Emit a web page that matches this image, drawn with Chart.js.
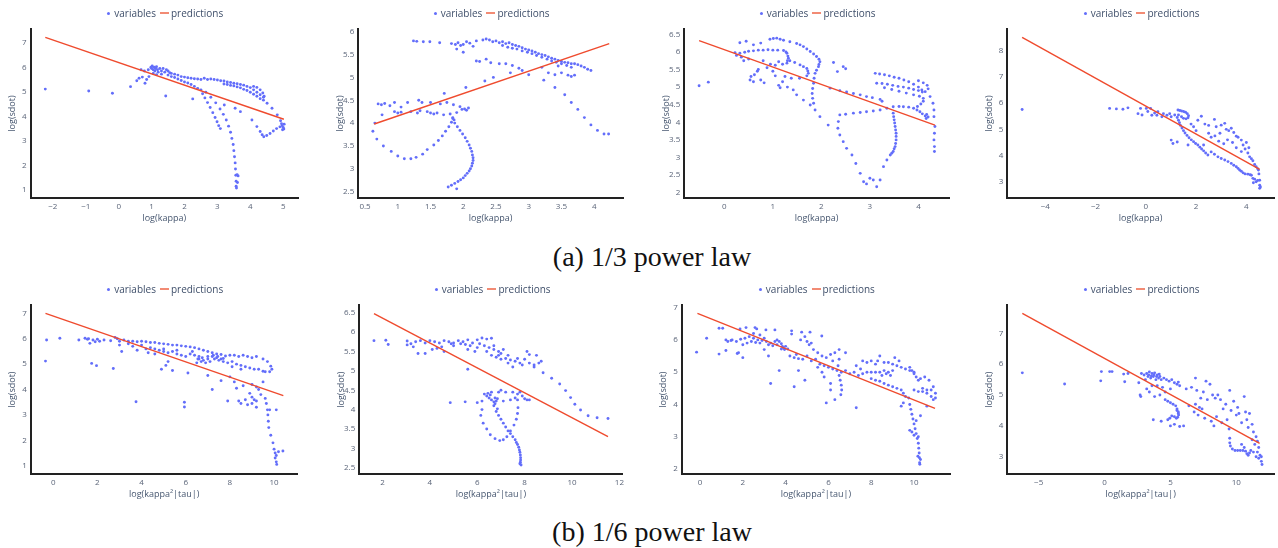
<!DOCTYPE html>
<html>
<head>
<meta charset="utf-8">
<script src="https://cdn.jsdelivr.net/npm/chart.js@4.4.1/dist/chart.umd.min.js"></script>
<style>
  html,body{margin:0;padding:0;background:#fff;}
  body{width:1278px;height:548px;position:relative;overflow:hidden;font-family:"Open Sans",sans-serif;}
  .panel{position:absolute;}
  .panel canvas{display:block;}
  .legend{position:absolute;transform:translateX(-50%);white-space:nowrap;font:10px "Open Sans",sans-serif;color:#3f4f6a;line-height:12px;display:flex;align-items:center;}
  .legend .dot{display:inline-block;width:3px;height:3px;border-radius:50%;background:#636efa;margin-right:4px;}
  .legend .ln{display:inline-block;width:9px;height:2px;background:#f28b74;margin:0 2px 0 4px;}
  .caption{position:absolute;left:0;width:1304px;text-align:center;font-family:"Liberation Serif",serif;font-size:28px;line-height:28px;color:#111;}
</style>
</head>
<body>
<div class="caption" style="top:243px">(a) 1/3 power law</div>
<div class="caption" style="top:518px">(b) 1/6 power law</div>
<script>
// ---------- tick labels & ranges ----------
const p1XTicks=[-2,-1,0,1,2,3,4,5], p1YTicks=[1,2,3,4,5,6,7];
const p2XTicks=[0.5,1,1.5,2,2.5,3,3.5,4], p2YTicks=[2.5,3,3.5,4,4.5,5,5.5,6];
const p3XTicks=[0,1,2,3,4], p3YTicks=[2,2.5,3,3.5,4,4.5,5,5.5,6,6.5];
const p4XTicks=[-4,-2,0,2,4], p4YTicks=[3,4,5,6,7,8];
const p5XTicks=[0,2,4,6,8,10], p5YTicks=[1,2,3,4,5,6,7];
const p6XTicks=[2,4,6,8,10,12], p6YTicks=[2.5,3,3.5,4,4.5,5,5.5,6,6.5];
const p7XTicks=[0,2,4,6,8,10], p7YTicks=[2,3,4,5,6,7];
const p8XTicks=[-5,0,5,10], p8YTicks=[3,4,5,6,7];

const p1XRange=[-2.68,5.45], p1YRange=[0.67,7.56];
const p2XRange=[0.397,4.44], p2YRange=[2.36,6.06];
const p3XRange=[-0.825,4.63], p3YRange=[1.85,6.65];
const p4XRange=[-5.51,5.10], p4YRange=[2.38,8.83];
const p5XRange=[-1.02,11.07], p5YRange=[0.66,7.33];
const p6XRange=[1.02,12.14], p6YRange=[2.33,6.70];
const p7XRange=[-0.855,11.68], p7YRange=[1.84,7.08];
const p8XRange=[-7.38,12.86], p8YRange=[2.43,7.92];

const xTitleTop="log(kappa)", xTitleBottom="log(kappa\u00B2|tau|)", yTitle="log(sdot)";
const seriesNames=["variables","predictions"];

// ---------- fitted lines (predictions) ----------
const p1Fit=[[-2.23,7.22],[5.02,3.88]];
const p2Fit=[[0.64,3.98],[4.23,5.74]];
const p3Fit=[[-0.52,6.32],[4.34,3.92]];
const p4Fit=[[-4.92,8.51],[4.53,3.47]];
const p5Fit=[[-0.35,7.0],[10.42,3.76]];
const p6Fit=[[1.64,6.48],[11.52,3.3]];
const p7Fit=[[-0.12,6.82],[10.98,3.88]];
const p8Fit=[[-6.24,7.65],[11.77,3.43]];

// ---------- observed variables ----------
const p1Pts=[[-2.23,5.11],[-0.91,5.03],[-0.19,4.94],[0.36,5.21],[1.43,4.83],[2.25,4.71],
[0.55,5.45],[0.62,5.55],[0.68,5.9],[0.72,5.6],[0.78,5.85],[0.8,5.35],[0.85,5.5],[0.9,5.9],[0.92,5.62],
[0.98,6.0],[1.0,5.95],[1.02,6.05],[1.05,5.9],[1.08,6.0],[1.1,5.85],[1.12,5.95],[1.15,6.02],[1.18,5.9],[1.2,5.8],[1.25,5.95],[1.3,5.85],[1.35,5.95],[1.4,5.8],[1.45,5.9],[1.5,5.85],[1.55,5.78],[1.6,5.75],[1.7,5.72],[1.8,5.68],[1.9,5.62],[1.05,5.75],[1.15,5.7],
[2.0,5.6],[2.1,5.57],[2.2,5.55],[2.3,5.53],[2.4,5.52],[2.5,5.5],[2.6,5.55],[2.7,5.5],[2.8,5.52],[2.9,5.5],[3.0,5.48],[3.1,5.45],[3.2,5.44],[3.3,5.4],[3.4,5.38],[3.5,5.35],[3.6,5.33],[3.7,5.3],[3.8,5.27],[3.9,5.22],[4.0,5.17],[4.1,5.08],[4.2,4.98],[4.3,4.88],[4.4,4.78],
[3.2,5.32],[3.3,5.3],[3.4,5.26],[3.5,5.24],[3.6,5.2],[3.7,5.16],[3.8,5.1],[3.9,5.05],[4.0,4.98],[4.1,4.9],[4.2,4.82],[4.3,4.72],[4.4,4.66],
[4.1,5.22],[4.2,5.18],[4.3,5.08],[4.38,4.95],[4.42,4.82],
[1.5,5.68],[1.7,5.58],[1.9,5.46],[2.1,5.36],[2.3,5.22],[2.5,5.08],[1.3,5.72],[1.6,5.62],[1.8,5.52],[2.0,5.4],[2.2,5.3],[2.4,5.14],
[2.55,4.92],[2.62,4.75],[2.7,4.56],[2.78,4.36],[2.86,4.15],[2.93,3.95],[2.99,3.78],[3.04,3.62],[3.09,3.5],
[2.65,4.98],[2.8,4.78],[2.95,4.55],[3.08,4.3],[3.18,4.08],[3.27,3.85],[3.34,3.6],[3.4,3.35],[3.44,3.1],[3.48,2.85],[3.5,2.6],[3.52,2.35],[3.54,2.1],[3.55,1.85],[3.56,1.6],[3.57,1.35],[3.57,1.15],[3.58,1.08],[3.61,1.3],[3.63,1.57],[3.6,1.62],
[3.21,4.46],[3.54,4.33],[3.7,4.19],[4.05,3.85],[4.2,3.58],[4.3,3.38],[4.36,3.25],[4.41,3.17],[4.5,3.22],[4.6,3.3],[4.7,3.4],[4.8,3.5],[4.9,3.57],[4.97,3.62],[5.0,3.55],[5.02,3.48],[4.98,3.45],[5.03,3.68],[4.95,3.7],[4.51,4.53],[4.66,4.33],[4.82,4.06],[4.92,3.82]];

const p2Pts=[[1.24,5.8],[1.29,5.79],[1.39,5.78],[1.49,5.78],[1.64,5.76],[1.82,5.74],[1.88,5.72],[1.92,5.76],[1.96,5.7],[2.0,5.72],[2.05,5.78],[2.1,5.75],[2.15,5.68],[2.2,5.8],[2.3,5.82],[2.35,5.84],[2.4,5.82],[2.45,5.78],[2.5,5.8],[2.55,5.76],[2.6,5.78],[2.65,5.74],[2.7,5.76],[2.75,5.72],[2.8,5.7],[2.85,5.68],[2.9,5.65],[2.95,5.62],[3.0,5.6],[3.05,5.58],[3.1,5.55],[3.15,5.52],[3.2,5.5],[3.25,5.48],[3.3,5.45],[3.35,5.42],[3.4,5.4],[3.45,5.37],[3.5,5.35],[3.55,5.33],[3.6,5.32],[3.65,5.3],[3.7,5.3],[3.75,5.28],[3.8,5.25],[3.85,5.22],[3.9,5.18],[3.95,5.15],
[2.6,5.7],[2.68,5.66],[2.75,5.64],[2.82,5.62],[2.9,5.58],[2.98,5.55],[3.05,5.52],[3.12,5.48],[3.2,5.44],[3.28,5.4],[3.35,5.36],[3.42,5.33],[3.5,5.3],[3.58,5.26],[3.65,5.22],
[1.9,5.62],[2.0,5.55],[2.2,5.36],[2.25,5.35],[2.35,5.4],[2.42,5.32],[2.55,5.3],[2.65,5.3],[2.75,5.26],[2.85,5.2],[2.9,5.15],[3.0,5.06],[3.2,5.22],[3.45,5.25],[3.5,5.1],[3.6,5.05],[3.65,5.02],[3.7,5.05],[2.72,5.1],[2.46,5.0],[3.3,5.1],[3.4,5.06],
[2.33,4.92],[2.04,4.78],[1.71,4.65],[3.23,4.94],[3.4,4.78],[3.55,4.62],[3.65,4.45],[3.75,4.3],[3.85,4.12],[3.95,3.96],[4.05,3.84],[4.15,3.76],[4.22,3.76],
[0.7,4.42],[0.75,4.4],[0.8,4.43],[0.88,4.38],[0.95,4.45],[1.05,4.35],[1.15,4.45],[1.32,4.5],[1.37,4.45],[1.5,4.45],[1.65,4.42],[1.75,4.45],[1.85,4.4],[1.95,4.36],[2.02,4.31],[2.08,4.33],[2.05,4.28],[1.98,4.3],
[0.95,4.25],[1.0,4.22],[1.05,4.24],[1.2,4.25],[1.3,4.22],[1.45,4.25],[1.55,4.2],[1.6,4.22],[1.7,4.18],[1.8,4.2],[1.9,4.23],[1.34,4.27],[1.5,4.22],
[0.65,4.0],[0.62,3.82],[0.68,3.65],[0.78,3.5],[0.9,3.38],[1.0,3.28],[1.1,3.22],[1.2,3.22],[1.28,3.25],[1.38,3.32],[1.45,3.42],[1.55,3.52],[1.62,3.62],[1.68,3.72],[1.73,3.82],[1.78,3.92],[1.82,4.02],[1.84,4.1],[0.76,4.18],
[1.87,4.0],[1.91,3.92],[1.95,3.84],[1.99,3.76],[2.03,3.68],[2.06,3.6],[2.09,3.52],[2.11,3.45],[2.13,3.38],[2.14,3.3],[2.15,3.24],[2.15,3.18],[2.14,3.12],[2.13,3.06],[2.11,3.0],[2.09,2.95],[2.06,2.9],[2.03,2.85],[2.0,2.8],[1.96,2.76],[1.92,2.72],[1.87,2.68],[1.82,2.64],[1.77,2.6],[1.9,2.56],[1.84,4.12],[1.86,4.07]];

const p3Pts=[[-0.52,5.04],[-0.33,5.14],
[0.32,6.26],[0.45,6.3],[0.6,6.2],[0.75,6.25],[0.94,6.36],[1.01,6.38],[1.08,6.39],[1.15,6.36],[1.22,6.33],[1.35,6.29],[1.49,6.24],[1.56,6.2],[1.63,6.15],[1.7,6.08],[1.77,6.01],[1.84,5.94],[1.9,5.87],[1.95,5.79],[1.97,5.72],[1.95,5.64],[1.94,5.58],[1.9,5.48],[1.87,5.39],[1.85,5.25],[1.84,5.11],[1.82,4.96],[1.81,4.82],[1.82,4.68],[1.84,4.54],[1.87,4.35],
[0.22,5.98],[0.32,5.96],[0.42,5.99],[0.5,6.02],[0.6,6.03],[0.7,6.05],[0.8,6.05],[0.9,6.06],[1.0,6.05],[1.1,6.05],[1.22,6.04],[1.27,6.0],[1.29,5.96],[1.31,5.88],[1.32,5.82],[1.3,5.75],[1.29,5.68],[1.2,5.65],[1.12,5.72],[1.05,5.62],
[1.35,5.75],[1.45,5.7],[1.56,5.63],[1.63,5.58],[1.7,5.53],[1.72,5.46],[1.73,5.39],[1.7,5.32],
[0.25,5.9],[0.35,5.85],[0.53,5.2],[0.55,5.3],[0.62,5.35],[0.68,5.45],[0.75,5.2],[0.82,5.12],[0.88,5.55],[0.95,5.65],[1.05,5.32],[1.12,5.05],[1.2,5.15],[1.3,5.0],[1.38,5.25],[1.42,4.92],[1.49,4.78],[1.63,4.63],[1.77,4.49],[1.97,4.16],[2.14,3.92],[0.4,5.75],[0.5,5.8],[0.7,5.5],[1.0,5.45],[1.15,4.98],[1.25,5.3],[1.55,5.25],[0.8,5.75],[0.6,5.15],
[2.25,5.7],[2.33,5.44],[2.45,5.58],[2.5,5.52],
[2.18,4.97],[2.38,4.9],[2.66,4.82],[2.93,4.73],[3.21,4.65],[3.25,4.6],[3.05,4.7],[2.8,4.78],[2.52,4.86],
[3.11,5.39],[3.2,5.37],[3.3,5.35],[3.4,5.32],[3.5,5.28],[3.6,5.25],[3.7,5.2],[3.8,5.15],[3.9,5.08],[4.0,5.0],[4.07,4.92],[4.14,4.87],
[3.14,5.11],[3.25,5.1],[3.36,5.08],[3.47,5.05],[3.58,5.02],[3.69,5.0],[3.8,4.97],[3.9,4.93],[4.0,4.9],[4.08,4.86],[4.2,4.95],[4.18,5.05],[4.1,5.12],[4.0,5.18],
[3.3,4.98],[3.45,4.93],[3.6,4.88],[3.75,4.83],[3.9,4.78],[4.02,4.74],[4.1,4.68],[4.1,4.6],[4.05,4.52],[3.98,4.45],
[3.21,4.35],[3.35,4.4],[3.48,4.44],[3.6,4.45],[3.69,4.44],[3.8,4.43],[3.9,4.4],[3.97,4.35],[4.03,4.3],[4.08,4.24],[4.14,4.18],[4.16,4.11],[4.2,4.15],[4.17,4.22],
[4.24,4.73],[4.3,4.54],[4.32,4.35],[4.32,4.16],[4.34,3.88],[4.33,3.69],[4.32,3.5],[4.33,3.31],[4.33,3.17],
[2.38,4.21],[2.5,4.23],[2.66,4.26],[2.8,4.28],[2.93,4.3],[3.07,4.32],[2.35,4.02],[2.34,3.83],[2.38,3.64],[2.45,3.45],[2.52,3.26],[2.63,3.07],[2.71,2.83],[2.8,2.55],[2.87,2.31],[2.93,2.25],[3.0,2.41],[3.07,2.36],[3.14,2.17],[3.21,2.36],[3.28,2.74],[3.35,2.93],[3.42,3.07],[3.48,3.17],[3.52,3.31],[3.54,3.5],[3.54,3.69],[3.52,3.88],[3.5,4.07],[3.48,4.26],
[3.45,3.12],[3.5,3.25],[3.53,3.4],[3.54,3.6],[3.53,3.78],[3.51,3.98],[3.49,4.16]];

const p4Pts=[[-4.92,5.76],[-1.44,5.8],[-1.17,5.78],[-0.91,5.77],[-0.71,5.82],
[-0.31,5.6],[-0.15,5.55],[-0.21,5.8],[0.02,5.8],[0.19,5.8],[0.08,5.68],[0.24,5.54],[0.44,5.54],[0.64,5.48],[0.84,5.54],[1.01,5.48],[0.48,5.67],[0.35,5.62],[0.7,5.6],[0.95,5.6],[1.15,5.55],
[1.28,5.74],[1.35,5.72],[1.42,5.7],[1.5,5.68],[1.58,5.65],[1.65,5.6],[1.7,5.52],[1.68,5.44],[1.6,5.4],[1.5,5.42],[1.42,5.48],[1.3,5.55],[1.25,5.45],[1.3,5.35],[1.34,5.25],[1.38,5.15],[1.44,5.05],[1.5,4.95],[1.56,4.86],[1.64,4.77],[1.72,4.68],[1.81,4.6],[1.9,4.53],[1.98,4.46],[2.07,4.4],[2.15,4.32],[2.22,4.25],[2.3,4.18],[2.38,4.1],[2.47,4.02],
[1.01,4.59],[1.08,4.46],[1.25,4.52],[1.68,4.4],[2.07,5.35],[2.21,5.5],[2.35,5.2],[2.5,5.15],[2.73,5.38],[2.8,5.1],[3.0,5.16],[3.14,5.23],[3.2,5.0],[3.3,4.95],[3.4,5.04],[3.5,4.88],[3.6,4.74],[3.67,4.7],[3.8,4.59],[3.87,4.4],[3.95,4.25],[4.06,4.1],[4.13,3.95],[4.2,3.88],[4.26,3.8],[4.33,3.66],[4.39,3.57],[4.45,3.5],[2.6,4.7],[2.75,4.75],[2.9,4.55],[3.1,4.45],[3.25,4.6],[3.45,4.5],[2.5,4.85],[1.9,5.1],[2.0,4.95],[1.8,5.2],[2.3,4.4],[3.6,4.3],[3.8,4.15],[4.0,4.5],[4.1,4.3],[2.95,4.85],
[2.6,4.14],[2.73,4.05],[2.87,3.95],[3.0,3.89],[3.14,3.83],[3.27,3.77],[3.4,3.7],[3.5,3.63],[3.6,3.57],[3.67,3.51],[3.73,3.45],[3.8,3.4],[3.87,3.34],[3.95,3.3],[4.06,3.29],[4.15,3.27],[4.2,3.25],[4.26,3.13],[4.28,2.96],[4.33,3.1],[4.39,3.0],[4.45,3.05],[4.53,3.06],[4.53,2.87],[4.53,2.75],[4.56,2.8],[4.5,3.3],[4.48,3.45]];

const p5Pts=[[-0.35,5.12],[-0.3,5.95],[0.3,6.02],[1.16,5.95],[1.44,6.02],[1.55,5.98],[1.66,5.82],[1.74,5.03],[1.96,4.94],[2.72,4.83],[3.75,3.52],[5.94,3.5],[5.94,3.31],
[1.6,6.0],[1.8,5.95],[1.9,5.88],[2.0,5.98],[2.1,5.9],[2.3,5.95],[2.6,5.92],[2.8,6.05],[2.9,6.0],[3.0,5.9],[3.2,5.95],[3.4,5.9],[3.6,5.9],[3.8,5.88],[4.0,5.9],[4.2,5.88],[4.4,5.85],[4.6,5.85],[4.8,5.82],[5.0,5.8],[5.2,5.78],[5.4,5.75],[5.6,5.75],[5.8,5.72],[6.0,5.7],[6.2,5.68],[6.4,5.65],[6.6,5.6],[6.8,5.55],[7.0,5.5],[7.2,5.45],[7.4,5.4],[7.6,5.38],
[3.0,5.75],[3.4,5.8],[3.6,5.7],[4.0,5.75],[4.2,5.6],[4.4,5.65],[4.6,5.6],[4.8,5.55],[5.0,5.5],[5.2,5.45],[5.4,5.5],[5.6,5.4],[5.8,5.35],[6.0,5.3],[6.2,5.4],[6.4,5.35],[6.6,5.2],[6.8,5.15],[7.0,5.3],[7.2,5.3],[7.4,5.25],[7.6,5.2],[7.8,5.32],[8.0,5.35],[8.2,5.35],[8.4,5.3],[8.6,5.35],[8.8,5.3],[9.0,5.25],[9.2,5.3],[9.5,5.2],[9.7,5.1],[9.85,4.92],[9.9,4.8],[9.8,4.7],[9.6,4.7],
[6.6,5.3],[6.7,5.1],[6.9,5.05],[7.1,5.1],[7.3,5.2],[7.5,5.15],[7.7,5.1],[7.9,5.05],[8.1,5.1],[8.3,5.0],[8.5,4.95],[8.7,4.9],[8.9,4.85],[9.1,4.8],[9.3,4.8],[9.5,4.72],[6.55,5.2],[6.75,5.25],[7.0,5.2],[7.25,5.35],[7.45,5.3],[7.7,5.22],
[3.1,5.5],[3.8,5.55],[4.3,5.45],[4.9,4.8],[5.1,4.95],[5.4,4.75],[5.2,5.1],[6.1,4.65],[6.5,5.05],[7.0,4.55],[7.2,4.0],[7.6,4.35],[7.9,3.55],[8.0,4.5],[8.2,4.3],[8.3,4.05],[8.4,3.55],[8.5,3.45],[8.6,4.15],[8.7,3.6],[8.8,3.4],[8.9,3.85],[9.0,3.7],[9.1,3.6],[9.2,3.55],[9.0,3.45],[9.3,4.0],[9.4,3.8],[9.5,4.3],[9.2,3.3],[9.8,3.2],[10.1,3.2],[8.5,4.8],[9.0,4.2],[9.2,4.1],[8.1,4.9],[5.6,5.55],[6.3,5.5],[4.6,5.4],[5.0,5.6],
[9.6,3.65],[9.65,3.45],[9.7,3.2],[9.72,3.0],[9.74,2.75],[9.76,2.5],[9.85,2.2],[9.95,1.9],[10.0,1.65],[10.05,1.5],[10.1,1.4],[10.05,1.3],[10.1,1.15],[10.12,1.05],[10.2,1.55],[10.4,1.58]];

const p6Pts=[[1.64,5.78],[2.14,5.79],[2.24,5.68],[3.04,5.77],[3.04,5.67],
[3.2,5.7],[3.4,5.75],[3.6,5.78],[3.8,5.72],[4.0,5.78],[4.2,5.75],[4.4,5.72],[4.6,5.78],[4.8,5.75],[5.0,5.72],[5.2,5.78],[5.4,5.75],[5.6,5.8],[5.8,5.72],[6.0,5.8],[6.2,5.85],[6.4,5.82],[6.6,5.84],[5.0,5.65],[5.3,5.7],[5.7,5.65],[6.0,5.6],[6.3,5.65],[6.5,5.6],[6.7,5.55],[6.9,5.5],[7.1,5.55],[6.4,5.5],[6.6,5.4],[6.8,5.35],[7.0,5.3],[7.2,5.32],[7.4,5.28],[7.6,5.25],[7.8,5.2],[8.0,5.3],[8.2,5.2],[7.5,5.1],[7.9,5.15],[8.1,5.5],[8.5,5.4],[8.6,5.2],[8.7,5.25],[8.4,5.15],[7.3,5.4],[6.9,5.4],[3.5,5.45],[3.8,5.45],[4.1,5.55],[4.3,5.58],[4.6,5.5],[5.6,5.55],[5.9,5.5],[4.9,5.7],[5.5,5.68],[6.1,5.7],[6.7,5.65],[7.0,5.45],[7.3,5.2],[7.7,5.32],[8.2,5.42],[3.3,5.62],[4.5,5.62],
[5.6,5.04],[8.4,5.1],[8.78,4.95],[9.14,4.81],[9.48,4.66],[9.73,4.49],[9.94,4.31],[10.12,4.14],[10.36,3.99],[10.68,3.84],[11.06,3.79],[11.52,3.77],
[4.86,4.18],[5.49,4.2],
[6.3,4.4],[6.4,4.35],[6.5,4.3],[6.6,4.25],[6.7,4.2],[6.8,4.22],[6.9,4.45],[7.0,4.5],[7.2,4.45],[7.5,4.45],[7.7,4.4],[7.9,4.35],[8.0,4.28],[8.1,4.25],[8.2,4.25],[7.4,4.25],[7.7,4.25],[6.2,4.22],[6.0,4.18],[6.6,4.45],[7.1,4.22],[7.8,4.45],[7.6,4.3],[6.45,4.42],[6.55,4.38],[6.75,4.3],[6.85,4.28],
[6.2,4.0],[6.15,3.85],[6.25,3.65],[6.4,3.5],[6.55,3.35],[6.75,3.25],[6.95,3.2],[7.1,3.22],[7.25,3.3],[7.4,3.45],[7.55,3.6],[7.65,3.75],[7.7,3.9],[7.72,4.05],
[6.7,4.1],[6.8,3.95],[6.9,3.85],[7.0,3.75],[7.1,3.65],[7.2,3.55],[7.3,3.45],[7.4,3.38],[7.5,3.3],[7.6,3.22],[7.65,3.15],[7.7,3.1],[7.75,3.03],[7.78,2.96],[7.8,2.9],[7.82,2.83],[7.83,2.76],[7.83,2.7],[7.82,2.64],[7.8,2.6],[7.85,2.57],[6.75,4.15],[6.85,4.02]];

const p7Pts=[[-0.16,5.62],[0.31,6.05],[0.89,5.56],[0.89,6.36],[1.06,6.36],[1.21,6.0],[1.21,5.67],[1.45,5.98],[1.74,5.58],[1.87,6.34],[2.0,5.45],[2.15,6.38],[2.57,6.38],[2.65,6.34],[3.08,6.31],[3.5,6.31],[4.28,6.28],[4.28,6.18],[4.75,6.24],[5.14,6.24],[5.69,6.12],
[1.5,6.0],[1.7,5.95],[1.9,6.02],[2.1,6.05],[2.3,6.1],[2.5,6.05],[2.7,6.0],[2.9,5.98],[3.1,5.95],[3.3,5.9],[3.5,5.95],[3.6,6.0],[3.7,5.95],[3.8,5.88],[3.85,5.8],[3.9,5.75],[3.95,5.7],[3.8,5.72],[3.6,5.85],[3.4,5.82],[3.2,5.85],[2.8,5.9],[2.6,5.92],[2.4,5.95],[2.2,5.9],[1.8,5.6],[2.0,5.85],[1.3,5.95],[3.0,5.7],[3.2,5.5],[4.1,5.72],[4.2,5.5],[4.4,5.45],[4.6,5.42],[4.8,5.4],[5.0,5.5],[5.2,5.35],[5.4,5.4],[5.6,5.25],[5.8,5.2],[6.0,5.15],[6.2,5.1],[6.4,5.05],[6.6,5.0],[6.8,5.05],[4.7,6.0],[4.9,6.1],[5.0,5.95],[5.1,5.85],[5.2,5.9],[5.3,5.7],[5.5,5.6],[5.7,5.5],[5.9,5.45],[6.1,5.55],[6.3,5.6],[6.5,5.7],[6.8,5.6],[6.2,5.35],[6.5,5.4],[6.45,5.2],[6.5,4.9],[6.55,4.75],[6.6,4.6],[6.62,4.45],[6.58,4.3],[3.7,5.05],[4.6,5.05],[4.9,4.75],[4.4,4.55],[3.3,4.65],[5.8,4.85],[6.1,4.65],[6.1,4.45],[5.9,4.05],[6.3,4.15],[7.3,3.9],[5.5,5.15],[5.7,5.0],[2.5,6.2],[2.8,6.15],[3.0,6.05],[4.0,5.8],[4.5,5.55],
[7.0,4.95],[7.2,5.0],[7.4,4.9],[7.6,4.95],[7.8,5.0],[8.0,5.0],[8.2,5.0],[8.4,5.0],[8.6,5.05],[8.8,5.0],[9.0,5.05],[8.5,4.9],[8.7,4.95],[8.9,4.9],[7.3,5.2],[7.6,5.35],[7.8,5.3],[8.0,5.35],[8.3,5.35],[8.6,5.3],[8.8,5.3],[9.0,5.25],[9.2,5.2],[9.4,5.15],[9.6,5.1],[9.8,5.05],[10.0,5.0],[8.4,5.5],[8.2,5.25],[9.1,5.45],[9.3,5.35],[7.5,5.1],[8.0,4.8],[8.2,4.75],[8.4,4.72],[8.6,4.65],[8.8,4.6],[9.0,4.55],[9.2,4.5],[9.4,4.45],[9.5,4.35],[9.6,4.25],
[9.8,5.15],[9.9,5.05],[10.0,4.95],[10.1,4.85],[10.2,4.75],[10.3,4.8],[10.5,4.85],[10.7,4.75],[10.9,4.55],[11.0,4.35],[11.0,4.2],[10.9,4.15],[10.8,4.25],[10.6,4.35],[10.4,4.4],[10.2,4.4],[10.0,4.45],[10.4,4.5],[10.6,4.45],[10.8,4.45],
[9.75,4.2],[9.8,4.0],[9.85,3.85],[9.9,3.7],[9.95,3.55],[10.0,3.4],[10.05,3.25],[10.1,3.1],[10.15,2.95],[10.2,2.8],[10.22,2.65],[10.24,2.5],[10.25,2.35],[10.26,2.2],[10.27,2.15],[9.8,3.2],[9.9,3.15],[10.0,3.05],[9.4,3.95],[9.5,4.05],[10.3,3.65],[10.6,3.95],[10.1,3.5],[10.2,3.0],[10.18,2.4],[10.3,2.3]];

const p8Pts=[[-6.24,5.72],[-3.03,5.36],[-0.29,5.46],[-0.24,5.76],[0.39,5.76],[0.57,5.76],[1.45,5.68],[1.53,5.43],[1.78,5.7],
[2.8,5.7],[3.0,5.65],[3.2,5.7],[3.4,5.75],[3.6,5.7],[3.8,5.72],[4.0,5.65],[4.2,5.6],[3.1,5.5],[3.3,5.6],[3.5,5.55],[3.7,5.6],[3.9,5.5],[4.1,5.55],[4.3,5.5],[4.5,5.55],[4.7,5.5],[4.9,5.45],[5.1,5.5],[5.3,5.4],[5.5,5.35],[5.6,5.42],[5.7,5.3],[2.6,5.4],[2.7,5.0],[2.75,4.95],[3.2,5.2],[3.4,5.1],[3.6,5.3],[4.0,5.3],[4.4,5.25],[3.8,4.95],[4.2,5.0],[4.6,5.1],[5.0,5.2],[3.35,5.65],[3.55,5.62],[3.75,5.66],[3.95,5.6],[4.15,5.68],
[4.6,4.85],[4.8,4.8],[5.0,4.75],[5.2,4.7],[5.4,4.65],[5.5,4.55],[5.6,4.45],[5.62,4.35],[5.55,4.28],[5.45,4.25],[5.3,4.3],[5.1,4.32],[4.95,4.25],[4.8,4.2],[5.5,4.5],[5.6,4.4],
[3.7,4.2],[4.3,4.15],[5.0,4.0],[5.3,4.05],[5.7,3.98],[6.0,4.0],[6.2,5.2],[6.6,5.25],[6.9,5.55],[7.0,5.15],[7.3,4.9],[7.5,5.1],[7.7,5.45],[7.8,4.85],[8.0,5.35],[8.2,5.0],[8.4,4.9],[8.6,5.0],[8.8,4.85],[9.0,4.55],[9.2,4.7],[9.5,5.15],[9.6,4.5],[9.8,4.8],[10.0,4.35],[10.2,4.4],[10.4,4.1],[10.6,4.95],[10.7,4.45],[10.8,4.2],[11.0,4.4],[11.2,4.05],[11.3,3.8],[11.5,3.65],[11.6,3.5],[11.7,3.3],[6.4,4.65],[6.8,4.45],[7.1,4.35],[7.4,4.55],[7.6,4.25],[8.1,4.15],[8.3,4.0],[8.5,4.3],[8.9,4.1],[6.9,4.7],[7.2,4.6],[9.3,4.2],[10.1,4.6],[10.9,3.95],[11.2,3.55],[11.4,3.4],[11.6,3.15],[11.8,3.05],[11.9,2.85],[11.95,2.75],[11.9,3.0],[11.7,2.95],[11.5,3.0],[11.3,3.15],[11.1,3.2],
[9.45,3.9],[9.5,3.6],[9.5,3.45],[9.55,3.35],[9.7,3.25],[9.9,3.2],[10.1,3.2],[10.3,3.2],[10.5,3.2],[10.7,3.18],[10.8,3.1],[10.9,3.05],[11.0,3.12],[10.6,3.3],[10.4,3.4]];

// ---------- layout (plot-area rectangles in page pixels) ----------
const panels=[
 {pts:p1Pts,fit:p1Fit,xr:p1XRange,yr:p1YRange,xt:p1XTicks,yt:p1YTicks,xTitle:xTitleTop,rect:[30.5,29,298,198]},
 {pts:p2Pts,fit:p2Fit,xr:p2XRange,yr:p2YRange,xt:p2XTicks,yt:p2YTicks,xTitle:xTitleTop,rect:[358.3,29,623,198]},
 {pts:p3Pts,fit:p3Fit,xr:p3XRange,yr:p3YRange,xt:p3XTicks,yt:p3YTicks,xTitle:xTitleTop,rect:[684.3,29,949,198]},
 {pts:p4Pts,fit:p4Fit,xr:p4XRange,yr:p4YRange,xt:p4XTicks,yt:p4YTicks,xTitle:xTitleTop,rect:[1007.3,29,1274,198]},
 {pts:p5Pts,fit:p5Fit,xr:p5XRange,yr:p5YRange,xt:p5XTicks,yt:p5YTicks,xTitle:xTitleBottom,rect:[30.7,305,297.7,474.3]},
 {pts:p6Pts,fit:p6Fit,xr:p6XRange,yr:p6YRange,xt:p6XTicks,yt:p6YTicks,xTitle:xTitleBottom,rect:[359.3,305,624,474.3]},
 {pts:p7Pts,fit:p7Fit,xr:p7XRange,yr:p7YRange,xt:p7XTicks,yt:p7YTicks,xTitle:xTitleBottom,rect:[681.7,305,950,474.3]},
 {pts:p8Pts,fit:p8Fit,xr:p8XRange,yr:p8YRange,xt:p8XTicks,yt:p8YTicks,xTitle:xTitleBottom,rect:[1007.3,305,1274,474.3]}
];

const TICK_COLOR='#5a6478', TITLE_COLOR='#46566f';
const fmt=v=>v<0?'\u2212'+Math.abs(v):String(v);

panels.forEach((p,i)=>{
  const [L,T,R,B]=p.rect;
  const left=Math.floor(L-31), top=Math.floor(T-10);
  const width=Math.ceil(R+4-left), height=Math.ceil(B+30-top);
  const yw=L-left, padTop=T-top, padRight=width-(R-left), xh=height-(B-top);
  const titleLH=9*1.2;

  const div=document.createElement('div');
  div.className='panel';
  div.style.left=left+'px'; div.style.top=top+'px';
  div.style.width=width+'px'; div.style.height=height+'px';
  const cv=document.createElement('canvas');
  cv.width=width; cv.height=height;
  cv.style.width=width+'px'; cv.style.height=height+'px';
  div.appendChild(cv);
  document.body.appendChild(div);

  // legend
  const lg=document.createElement('div');
  lg.className='legend';
  lg.style.left=((L+R)/2+1)+'px';
  lg.style.top=(T-22)+'px';
  lg.innerHTML='<span class="dot"></span><span>'+seriesNames[0]+'</span><span class="ln"></span><span>'+seriesNames[1]+'</span>';
  document.body.appendChild(lg);

  new Chart(cv,{
    type:'scatter',
    data:{datasets:[
      {label:seriesNames[0],data:p.pts.map(a=>({x:a[0],y:a[1]})),pointRadius:1.45,pointHoverRadius:1.45,
       backgroundColor:'#636efa',borderWidth:0,order:2},
      {label:seriesNames[1],data:p.fit.map(a=>({x:a[0],y:a[1]})),showLine:true,pointRadius:0,
       borderColor:'#ef4b2e',borderWidth:1.4,order:1}
    ]},
    options:{
      responsive:false,animation:false,devicePixelRatio:1,
      layout:{padding:{top:padTop,right:padRight,left:0,bottom:0}},
      plugins:{legend:{display:false},tooltip:{enabled:false}},
      scales:{
        x:{type:'linear',min:p.xr[0],max:p.xr[1],
           grid:{display:false,drawTicks:false},
           border:{display:true,color:'#222',width:2},
           ticks:{autoSkip:false,maxRotation:0,padding:4,color:TICK_COLOR,font:{family:'Open Sans',size:8},callback:v=>fmt(v)},
           afterBuildTicks:s=>{s.ticks=p.xt.map(v=>({value:v}));},
           title:{display:true,text:p.xTitle,color:TITLE_COLOR,font:{family:'Open Sans',size:9},padding:{top:0,bottom:xh-20-titleLH/2}},
           afterFit:s=>{s.height=xh;}},
        y:{type:'linear',min:p.yr[0],max:p.yr[1],
           grid:{display:false,drawTicks:false},
           border:{display:true,color:'#222',width:2},
           ticks:{autoSkip:false,padding:4,color:TICK_COLOR,font:{family:'Open Sans',size:8},callback:v=>fmt(v)},
           afterBuildTicks:s=>{s.ticks=p.yt.map(v=>({value:v}));},
           title:{display:true,text:yTitle,color:TITLE_COLOR,font:{family:'Open Sans',size:9},padding:{top:yw-18-titleLH/2,bottom:0}},
           afterFit:s=>{s.width=yw;}}
      }
    }
  });
});
</script>
</body>
</html>
